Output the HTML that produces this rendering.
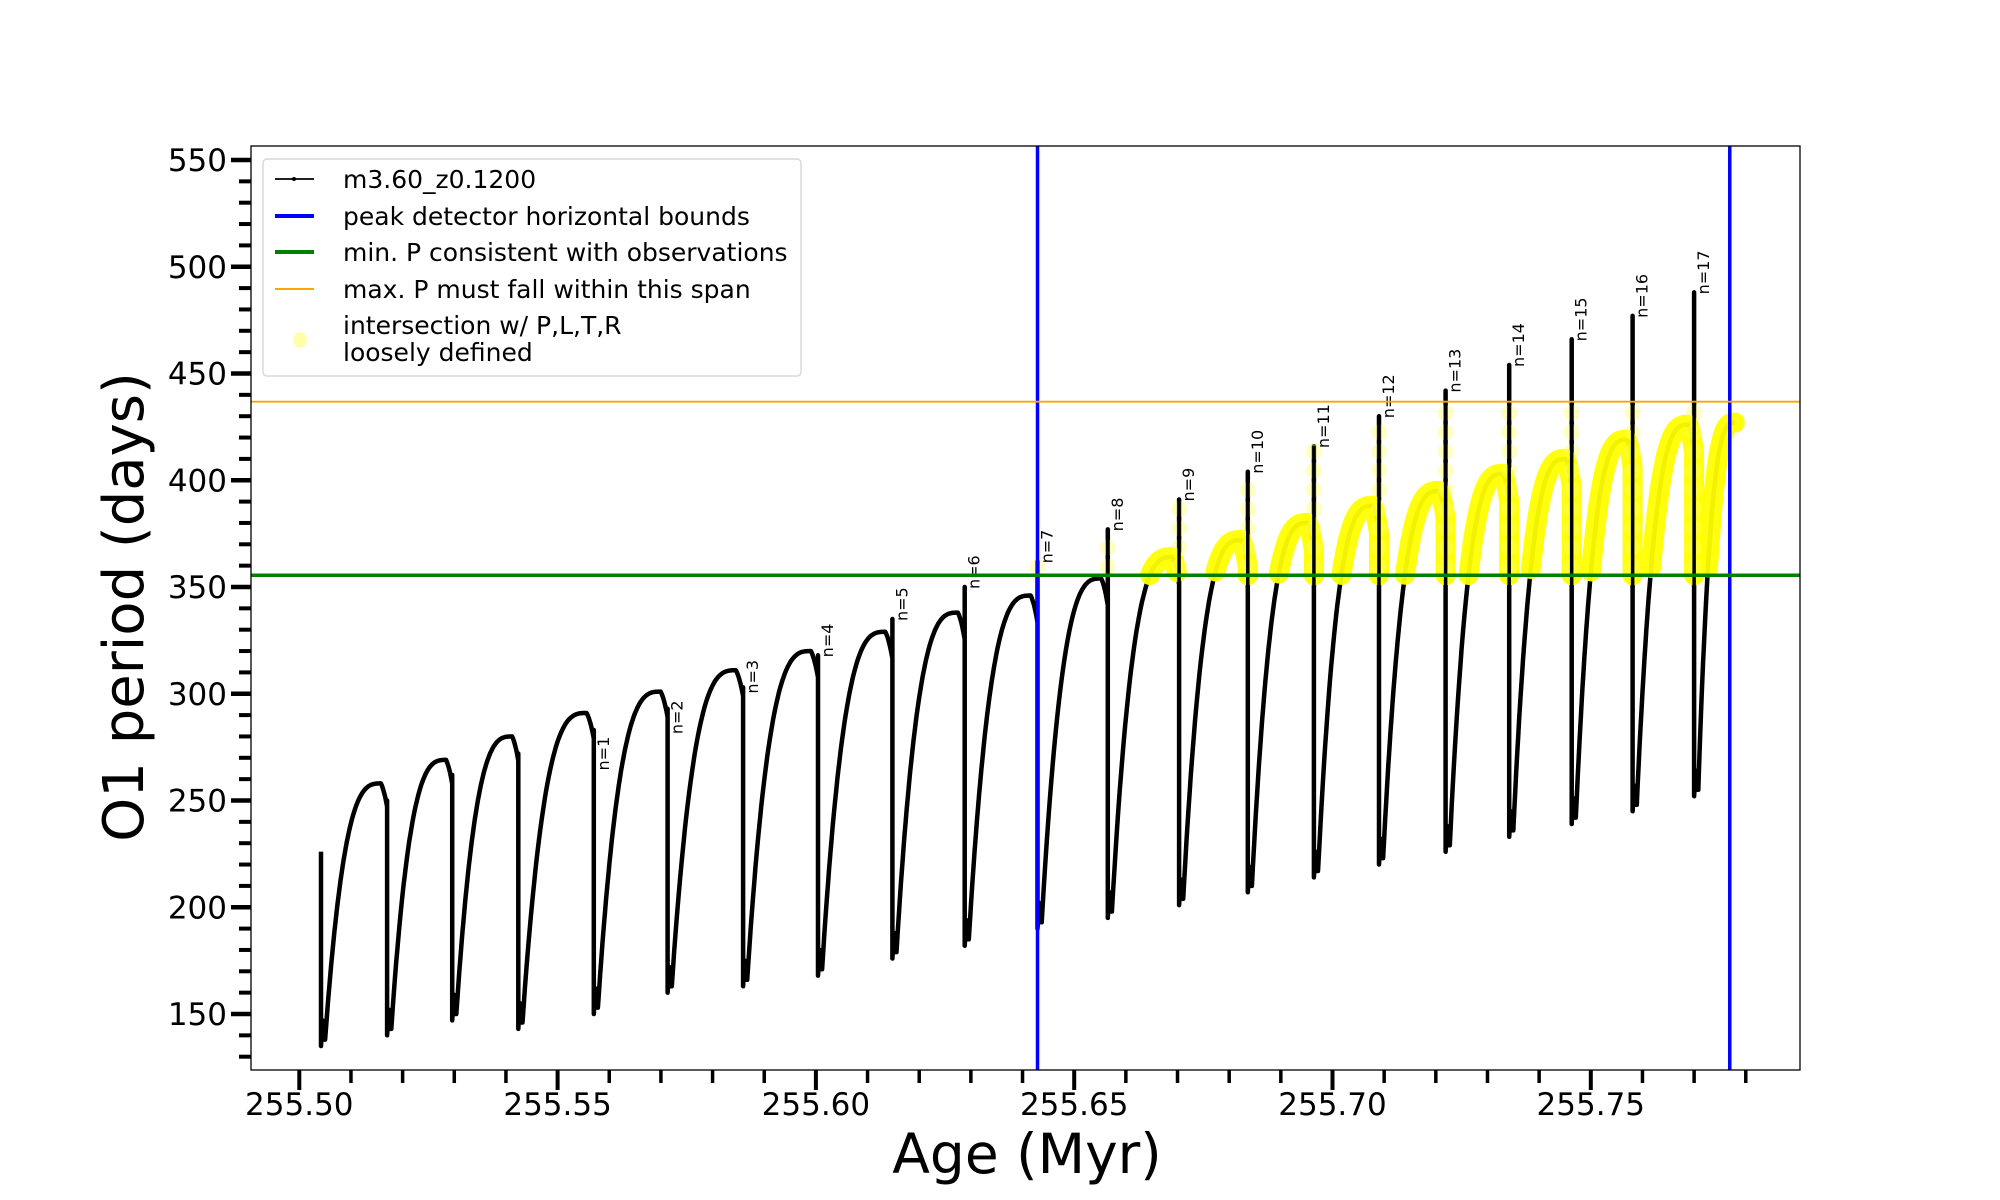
<!DOCTYPE html>
<html><head><meta charset="utf-8">
<style>
html,body{margin:0;padding:0;background:#fff;}
svg{display:block;font-family:"DejaVu Sans","Liberation Sans",sans-serif;}
</style></head>
<body>
<svg id="chart" width="2000" height="1200" viewBox="0 0 2000 1200" xmlns="http://www.w3.org/2000/svg">
<rect width="2000" height="1200" fill="#fff"/>
<g id="plot"></g>
</svg>
<script>
// ---- data ----
const pulseAges = [255.5042,255.5170,255.5296,255.5424,255.5570,255.5713,255.5859,255.6004,255.6148,255.6288,255.6429,255.6565,255.6703,255.6836,255.6964,255.7090,255.7219,255.7342,255.7463,255.7581,255.7700];
const endAge = 255.7779;
const spikeTops = [226,250,262,272,265,282,301,318,335,350,362,377,391,404,416,430,442,454,466,477,488];
const cycleMins = [135,140,147,143,150,160,163,168,176,182,190,195,201,207,214,220,226,233,239,245,252];
const cyclePeaks = [258,269,280,291,301,311,320,329,338,346,354,364,372,380,388,395,403,410,419,426,427];
const nLabels = ["","","","","n=1","n=2","n=3","n=4","n=5","n=6","n=7","n=8","n=9","n=10","n=11","n=12","n=13","n=14","n=15","n=16","n=17"];
const xTicks = [255.50,255.55,255.60,255.65,255.70,255.75];
const yTicks = [150,200,250,300,350,400,450,500,550];
const boundsAges = [255.6429,255.7769];
const minP = 355.5;
const maxP = 436.8;

// ---- axes ----
const L=251,R=1800,T=146,B=1070;
const x = a => 299.3 + (a-255.5)*5166;
const y = v => 160 + (550-v)*2.135;
const NS="http://www.w3.org/2000/svg";
const g=document.getElementById('plot');
function el(tag,attrs,parent){const e=document.createElementNS(NS,tag);for(const k in attrs)e.setAttribute(k,attrs[k]);(parent||g).appendChild(e);return e;}

const clip=el('clipPath',{id:'clip'});el('rect',{x:L,y:T,width:R-L,height:B-T},clip);
const data=el('g',{'clip-path':'url(#clip)'});



let pts=[]; let yellowSegs=[]; let spikes=[];
for(let i=0;i<pulseAges.length;i++){
  const t0=pulseAges[i]; const t1=(i+1<pulseAges.length)?pulseAges[i+1]:endAge;
  const mn=cycleMins[i], pk=cyclePeaks[i];
  spikes.push([t0,spikeTops[i],mn]);
  pts.push([t0,Math.max(spikeTops[i],i>0?cyclePeaks[i-1]-8:0)]);
  pts.push([t0,mn]);
  pts.push([t0+0.0003,mn+12]);
  pts.push([t0+0.0006,mn+3]);
  const t0b=t0+0.0008; const last=(i+1>=pulseAges.length);
  const N=60; let seg=[];
  for(let k=0;k<=N;k++){
    const u=k/N; let v;
    const up=last?1.0:0.9;
    if(u<=up){const w=u/up; v=mn+3+(pk-mn-3)*(1-Math.pow(1-w,3));}
    else{const w=(u-up)/(1-up); v=pk-(pk-mn)*0.04*w*w - 6*w;}
    const t=t0b+(t1-t0b)*u;
    pts.push([t,v]);
    if(v>=minP){seg.push([t,v]);}else if(seg.length){yellowSegs.push(seg);seg=[];}
  }
  if(!last && seg.length){seg.push([t1,minP]);}
  if(seg.length)yellowSegs.push(seg);
}
const d=pts.map((p,i)=>(i?'L':'M')+x(p[0]).toFixed(1)+','+y(p[1]).toFixed(1)).join('');
const curve=el('path',{d:d,fill:'none',stroke:'#000','stroke-width':4.5,'stroke-linejoin':'round'},data);


yellowSegs.forEach(s=>{
  const yd=s.map((p,i)=>(i?'L':'M')+x(p[0]).toFixed(1)+','+y(p[1]).toFixed(1)).join('');
  const yp=el('path',{d:yd,fill:'none',stroke:'#ffff00','stroke-width':20,'stroke-linecap':'round','stroke-linejoin':'round','stroke-opacity':0.95},data);
  
  
});
spikes.forEach((s,i)=>{
  const sx=x(s[0]);
  if(s[1]>minP){
    for(let v=minP+4; v<Math.min(s[1],maxP); v+=9){
      const c=el('circle',{cx:sx,cy:y(v),r:8,fill:'#ffff66','fill-opacity':0.4},data);
      
      
    }
  }
  const ln=el('line',{x1:sx,x2:sx,y1:y(s[1]),y2:y(s[2]),stroke:'#000','stroke-width':3.5},data);
  
  
  if(nLabels[i]){
    const tx=el('text',{x:0,y:0,'font-size':16,transform:`translate(${sx+15},${y(s[1])+2}) rotate(-90)`},data);
    tx.textContent=nLabels[i];
    
    
  }
});
boundsAges.forEach(a=>{
  const b=el('line',{x1:x(a),x2:x(a),y1:T,y2:B,stroke:'#0000ff','stroke-width':3.5},data);
  
  
});
const gl=el('line',{x1:L,x2:R,y1:y(minP),y2:y(minP),stroke:'#008000','stroke-width':3.5},data);


const ol=el('line',{x1:L,x2:R,y1:y(maxP),y2:y(maxP),stroke:'#ffa500','stroke-width':1.8},data);



const fr=el('rect',{x:L,y:T,width:R-L,height:B-T,fill:'none',stroke:'#000','stroke-width':1.3});



for(let k=0;k<=30;k++){
  const a=255.49+k*0.01; const xx=x(a); if(xx<L+3||xx>R-8)continue;
  const major=(k-1)%5===0;
  const t=el('line',{x1:xx,x2:xx,y1:B,y2:B+(major?20:13),stroke:'#000','stroke-width':major?4:3.5});
  
  
}
xTicks.forEach(a=>{
  const t=el('text',{x:x(a),y:B+45,'font-size':31,'text-anchor':'middle'});
  t.textContent=a.toFixed(2);
  
  
});
for(let v=130; v<=550; v+=10){
  const yy=y(v); if(yy<T||yy>B)continue;
  const major=v%50===0;
  const t=el('line',{x1:L,x2:L-(major?20:12),y1:yy,y2:yy,stroke:'#000','stroke-width':major?4.5:4});
  
  
}
yTicks.forEach(v=>{
  const t=el('text',{x:L-24,y:y(v)+11,'font-size':31,'text-anchor':'end'});
  t.textContent=v;
  
  
});
const xl=el('text',{x:1027,y:1173,'font-size':55,'text-anchor':'middle'});
xl.textContent='Age (Myr)';


const yl=el('text',{x:0,y:0,'font-size':56,'text-anchor':'middle',transform:'translate(143,607) rotate(-90)'});
yl.textContent='O1 period (days)';



const lg=el('g',{});


el('rect',{x:263,y:159,width:538,height:217,rx:4,fill:'#fff','fill-opacity':0.85,stroke:'#d8d8d8','stroke-width':1.5},lg);
const entries=[['m3.60_z0.1200','#000',1.8,179],['peak detector horizontal bounds','#0000ff',4,216],['min. P consistent with observations','#008000',4,252],['max. P must fall within this span','#ffa500',2,289]];
entries.forEach(e=>{
  const li=el('g',{},lg);
  
  
  el('line',{x1:275,x2:314,y1:e[3],y2:e[3],stroke:e[1],'stroke-width':e[2]},li);
  if(e[1]==='#000')el('circle',{cx:294,cy:e[3],r:2,fill:'#000'},li);
  const t=el('text',{x:343,y:e[3]+9,'font-size':25},li);t.textContent=e[0];
});
const li5=el('g',{},lg);


el('ellipse',{cx:300,cy:340,rx:7,ry:8,fill:'#ffffaa'},li5);
const t5=el('text',{x:343,y:334,'font-size':25},li5);t5.textContent='intersection w/ P,L,T,R';
const t6=el('text',{x:343,y:361,'font-size':25},li5);t6.textContent='loosely defined';
</script>
</body></html>
